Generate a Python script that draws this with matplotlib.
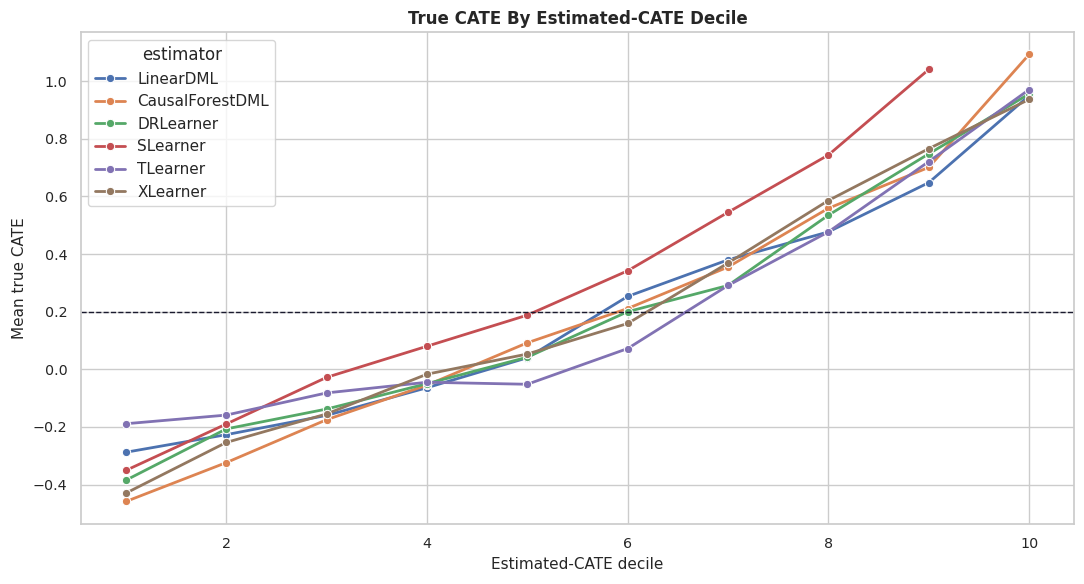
import numpy as np
import pandas as pd
import matplotlib
matplotlib.use("Agg")
import matplotlib.pyplot as plt
import seaborn as sns

deciles = [1, 2, 3, 4, 5, 6, 7, 8, 9, 10]
estimators = ["LinearDML", "CausalForestDML", "DRLearner", "SLearner", "TLearner", "XLearner"]

linear_dml = [-0.288, -0.227, -0.160, -0.064, 0.040, 0.253, 0.380, 0.477, 0.648, 0.950]
causal_forest_dml = [-0.459, -0.324, -0.175, -0.055, 0.092, 0.211, 0.355, 0.559, 0.701, 1.093]
dr_learner = [-0.385, -0.207, -0.138, -0.050, 0.042, 0.200, 0.291, 0.535, 0.748, 0.956]
s_learner = [-0.351, -0.190, -0.028, 0.080, 0.188, 0.342, 0.545, 0.744, 1.041, np.nan]
t_learner = [-0.189, -0.159, -0.082, -0.045, -0.052, 0.072, 0.291, 0.477, 0.721, 0.971]
x_learner = [-0.430, -0.254, -0.155, -0.017, 0.053, 0.159, 0.369, 0.586, 0.766, 0.937]

ate = 0.2

# long format for seaborn, SLearner has no 10th decile
series = [linear_dml, causal_forest_dml, dr_learner, s_learner, t_learner, x_learner]
rows = []
for name, vals in zip(estimators, series):
    for d, v in zip(deciles, vals):
        if not np.isnan(v):
            rows.append({"decile": d, "true_cate": v, "estimator": name})
df = pd.DataFrame(rows)

sns.set_theme(style="whitegrid")
fig, ax = plt.subplots(figsize=(10.84, 5.84), dpi=100)
sns.lineplot(data=df, x="decile", y="true_cate", hue="estimator", hue_order=estimators,
             marker="o", linewidth=2, ax=ax)
ax.axhline(ate, color="#1a1a2e", linestyle="--", linewidth=1)
ax.set_title("True CATE By Estimated-CATE Decile", fontweight="bold", fontsize=12)
ax.set_xlabel("Estimated-CATE decile", fontsize=11)
ax.set_ylabel("Mean true CATE", fontsize=11)
ax.tick_params(labelsize=10.3)
ax.legend(title="estimator", loc="upper left", fontsize=11, title_fontsize=12)
fig.subplots_adjust(left=0.0745, right=0.991, top=0.945, bottom=0.103)
plt.savefig("out.png")
